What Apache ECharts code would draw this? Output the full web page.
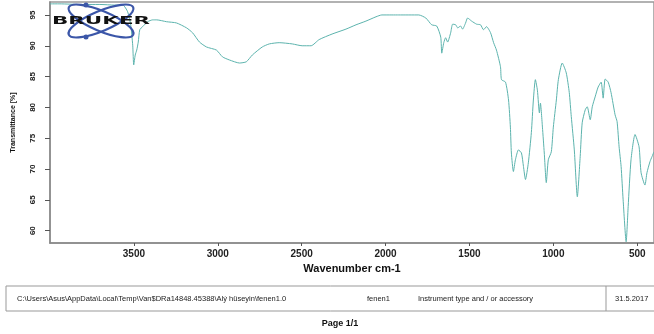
<!DOCTYPE html>
<html>
<head>
<meta charset="utf-8">
<script src="https://cdn.jsdelivr.net/npm/echarts@6/dist/echarts.min.js"></script>
<style>
html,body{margin:0;padding:0;background:#fff;}
#c{width:654px;height:334px;}
</style>
</head>
<body>
<div id="c"></div>
<script>
// Wavenumber (cm-1) and transmittance (%)
const wavenumbers = [4000,3941,3820,3703,3614,3566,3537,3519,3507,3501,3492,3483,3474,3465,3448,3418,3388,3364,3305,3246,3186,3150,3109,3067,3008,2972,2931,2871,2830,2794,2735,2693,2634,2556,2497,2444,2396,2319,2236,2176,2117,2057,2022,1962,1921,1802,1760,1725,1695,1671,1665,1653,1642,1630,1612,1600,1582,1570,1553,1541,1523,1511,1487,1457,1434,1416,1398,1374,1356,1339,1315,1309,1285,1267,1256,1250,1238,1226,1208,1190,1178,1166,1149,1131,1119,1107,1095,1083,1077,1065,1054,1042,1030,1012,1000,982,970,947,923,905,893,875,857,840,828,810,798,780,768,751,733,715,703,691,673,656,632,620,608,596,584,566,554,537,513,489,477,454,442,424,412,400];
const transmittance = [96.8,96.8,96.7,96.7,96.6,96.6,95.5,93.4,90.1,86.9,88.5,89.3,90.6,92.6,93.1,93.9,94.2,94.2,93.9,93.7,92.9,92.1,90.6,89.8,89.3,88.2,87.7,87.2,87.4,88.5,89.8,90.3,90.5,90.3,90.0,90.0,91.0,91.9,92.7,93.4,94.0,94.7,95.0,95.0,95.0,95.0,94.5,93.4,93.2,91.4,88.8,90.5,91.3,90.6,92.1,93.5,93.4,92.9,93.2,92.7,93.7,94.5,94.0,93.5,93.4,92.6,93.1,92.1,90.5,89.3,86.6,84.5,84.1,81.2,76.8,72.6,69.6,71.5,73.1,72.6,70.4,68.3,71.0,75.9,81.2,84.5,82.8,79.1,80.7,76.8,72.6,67.8,71.5,72.8,76.8,81.2,84.5,87.2,85.6,82.4,78.5,73.1,65.5,72.0,77.5,79.6,80.1,78.0,80.1,81.7,83.3,84.1,81.5,84.6,84.1,82.4,78.8,77.7,73.6,70.4,65.0,58.2,63.9,71.5,75.6,73.6,69.4,67.4,69.4,71.2,72.0,72.8];
const xTicks = [3500,3000,2500,2000,1500,1000,500];
const yTicks = [60,65,70,75,80,85,90,95];

const data = wavenumbers.map((w,i)=>[w, transmittance[i]]);

const chart = echarts.init(document.getElementById('c'), null, {renderer:'canvas'});
const logoBlue = '#3b56a8';
chart.setOption({
  animation:false,
  backgroundColor:'#ffffff',
  grid:{left:50, top:2, width:606, height:241, show:true, borderColor:'#999', borderWidth:1.5, backgroundColor:'transparent'},
  xAxis:{
    type:'value', inverse:true, min:400, max:4000,
    name:'Wavenumber cm-1', nameLocation:'middle', nameGap:20,
    nameTextStyle:{fontFamily:'Liberation Sans', fontWeight:'bold', fontSize:11, color:'#111'},
    axisLine:{show:true, lineStyle:{color:'#888', width:1.5}},
    axisTick:{show:true, length:3, customValues:xTicks, lineStyle:{color:'#555'}},
    axisLabel:{customValues:xTicks, formatter:(v)=>String(v), fontFamily:'Liberation Sans', fontWeight:'bold', fontSize:10, color:'#222', margin:6},
    splitLine:{show:false}
  },
  yAxis:{
    type:'value', min:58, max:97.1,
    name:'Transmittance [%]', nameLocation:'middle', nameGap:33, nameRotate:90,
    nameTextStyle:{fontFamily:'Liberation Sans', fontWeight:'bold', fontSize:7, color:'#111'},
    axisLine:{show:true, lineStyle:{color:'#888', width:1.5}},
    axisTick:{show:true, length:5, customValues:yTicks, lineStyle:{color:'#555'}},
    axisLabel:{customValues:yTicks, formatter:(v)=>String(v), rotate:90, fontFamily:'Liberation Sans', fontWeight:'bold', fontSize:8, color:'#222', margin:13},
    splitLine:{show:false}
  },
  series:[{
    type:'line', data:data, showSymbol:false, smooth:0.2,
    lineStyle:{color:'#5cb3ad', width:1}, z:3
  }],
  graphic:[
    // Bruker logo
    {type:'ellipse', shape:{cx:0, cy:0, rx:35, ry:10}, x:101, y:21, rotation:0.40, style:{fill:'none', stroke:logoBlue, lineWidth:2.2}, z:5},
    {type:'ellipse', shape:{cx:0, cy:0, rx:35, ry:10}, x:101, y:21, rotation:-0.40, style:{fill:'none', stroke:logoBlue, lineWidth:2.2}, z:5},
    {type:'circle', shape:{cx:86, cy:5, r:2.5}, style:{fill:logoBlue}, z:5},
    {type:'circle', shape:{cx:86, cy:37, r:2.5}, style:{fill:logoBlue}, z:5},
    {type:'text', x:52, y:21, scaleX:1.95, style:{text:'BRUKER', fontFamily:'DejaVu Sans', fontWeight:'bold', fontSize:11, fill:'#111', textVerticalAlign:'middle', textAlign:'left'}, z:6},
    // footer box
    {type:'rect', shape:{x:6, y:286, width:660, height:25}, style:{fill:'none', stroke:'#999', lineWidth:1}, z:1},
    {type:'line', shape:{x1:606, y1:286, x2:606, y2:311}, style:{stroke:'#999', lineWidth:1}, z:1},
    {type:'text', x:17, y:298.5, style:{text:'C:\\Users\\Asus\\AppData\\Local\\Temp\\Van$DRa14848.45388\\Alý hüseyin\\fenen1.0', fontFamily:'Liberation Sans', fontSize:7.5, fill:'#222', textVerticalAlign:'middle'}, z:2},
    {type:'text', x:367, y:298.5, style:{text:'fenen1', fontFamily:'Liberation Sans', fontSize:7.5, fill:'#222', textVerticalAlign:'middle'}, z:2},
    {type:'text', x:418, y:298.5, style:{text:'Instrument type and / or accessory', fontFamily:'Liberation Sans', fontSize:7.5, fill:'#222', textVerticalAlign:'middle'}, z:2},
    {type:'text', x:615, y:298.5, style:{text:'31.5.2017', fontFamily:'Liberation Sans', fontSize:7.5, fill:'#222', textVerticalAlign:'middle'}, z:2},
    {type:'text', x:340, y:324, style:{text:'Page 1/1', fontFamily:'Liberation Sans', fontWeight:'bold', fontSize:9, fill:'#111', textAlign:'center', textVerticalAlign:'middle'}, z:2}
  ]
});
</script>
</body>
</html>
